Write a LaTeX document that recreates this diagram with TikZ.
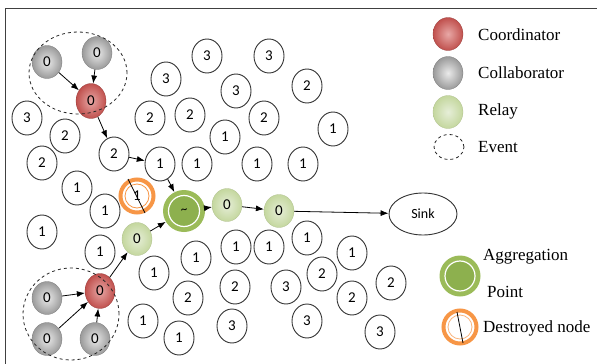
\documentclass[tikz,border=0pt]{standalone}
\usepackage{fontspec}
\setmainfont{Liberation Serif}
\newfontfamily\legfont{Liberation Serif}
\newfontfamily\nodefont{Carlito}
\usetikzlibrary{shapes.geometric,arrows.meta}
\definecolor{redc}{HTML}{C0504D}
\definecolor{redl}{HTML}{E8A8A6}
\definecolor{grayc}{HTML}{9A9A9A}
\definecolor{grayl}{HTML}{EAEAEA}
\definecolor{relayc}{HTML}{C4D79E}
\definecolor{relayl}{HTML}{E6EED8}
\definecolor{aggo}{HTML}{9BBB59}
\definecolor{aggi}{HTML}{8DB04E}
\definecolor{orangec}{HTML}{F79646}
\tikzset{
  wnode/.style={ellipse, draw=black!80, line width=0.9pt, fill=white, minimum width=30pt, minimum height=34pt, inner sep=0pt, font=\nodefont\fontsize{15}{15}\selectfont},
  ball/.style={ellipse, minimum width=30pt, minimum height=33pt, inner sep=0pt, font=\nodefont\fontsize{15}{15}\selectfont},
  grayball/.style={ball, inner color=grayl, outer color=grayc, draw=grayc!80!black, line width=0.3pt},
  redball/.style={ball, inner color=redl, outer color=redc, draw=redc!80!black, line width=0.3pt},
  relayball/.style={ball, inner color=relayl, outer color=relayc, draw=relayc!90!black, line width=0.3pt},
  event/.style={ellipse, draw=black!85, dashed, line width=0.8pt, inner sep=0pt},
  arr/.style={-{Latex[length=8pt,width=6pt]}, line width=0.8pt, black},
  legtext/.style={anchor=west, inner sep=0pt, font=\legfont\fontsize{17}{17}\selectfont},
  aggouter/.style={circle, fill=aggo, minimum size=42pt, inner sep=0pt},
  destroyed/.style={circle, draw=orangec, line width=4pt, fill=white, minimum size=33pt, inner sep=0pt},
}
\begin{document}
\begin{tikzpicture}[x=1pt,y=-1pt]
\useasboundingbox (0,0) rectangle (597,364);
\fill[white] (0,0) rectangle (597,364);
\draw[black!75, line width=0.9pt] (5,364) -- (5,8) -- (597,8);

% white nodes
\node[wnode] (n1) at (207,56) {3};
\node[wnode] (n2) at (269,56) {3};
\node[wnode] (n3) at (166,79) {3};
\node[wnode] (n4) at (236,91) {3};
\node[wnode] (n5) at (307,86) {2};
\node[wnode] (n6) at (27,118) {3};
\node[wnode] (n7) at (65,136) {2};
\node[wnode] (n8) at (150,118) {2};
\node[wnode] (n9) at (190,115) {2};
\node[wnode] (n10) at (264,118) {2};
\node[wnode] (n11) at (333,129) {1};
\node[wnode] (n12) at (225,137) {1};
\node[wnode] (n13) at (42,163) {2};
\node[wnode] (n14) at (114,154) {2};
\node[wnode] (n15) at (160,164) {1};
\node[wnode] (n16) at (197,164) {1};
\node[wnode] (n17) at (257,164) {1};
\node[wnode] (n18) at (303,164) {1};
\node[wnode] (n19) at (77,188) {1};
\node[wnode] (n20) at (105,211) {1};
\node[wnode] (n21) at (42,232) {1};
\node[wnode] (n22) at (100,252) {1};
\node[wnode] (n23) at (154,273) {1};
\node[wnode] (n24) at (196,258) {1};
\node[wnode] (n25) at (236,247) {1};
\node[wnode] (n26) at (269,247) {1};
\node[wnode] (n27) at (307,238) {1};
\node[wnode] (n28) at (352,253) {1};
\node[wnode] (n29) at (322,274) {2};
\node[wnode] (n30) at (352,298) {2};
\node[wnode] (n31) at (391,283) {2};
\node[wnode] (n32) at (188,298) {2};
\node[wnode] (n33) at (235,287) {2};
\node[wnode] (n34) at (286,287) {3};
\node[wnode] (n35) at (232,326) {3};
\node[wnode] (n36) at (143,321) {1};
\node[wnode] (n37) at (179,338) {1};
\node[wnode] (n38) at (307,321) {3};
\node[wnode] (n39) at (380,332) {3};

% sink
\node[ellipse, draw=black!80, line width=0.9pt, minimum width=68pt, minimum height=42pt, inner sep=0pt, font=\nodefont\fontsize{14}{14}\selectfont] (sink) at (423,214) {Sink};

% top event group
\node[grayball] (g1) at (47,62) {0};
\node[grayball] (g2) at (97,53) {0};
\node[redball, minimum height=35pt] (c1) at (91,101) {0};
\node[event, minimum width=98pt, minimum height=82pt] (ev1) at (78,73) {};

% bottom event group
\node[grayball] (g3) at (47,298) {0};
\node[grayball] (g4) at (47,339) {0};
\node[grayball] (g5) at (95,339) {0};
\node[redball, minimum height=35pt] (c2) at (100,291) {0};
\node[event, minimum width=96pt, minimum height=92pt] (ev2) at (71,314) {};

% relays
\node[relayball] (r1) at (137,239) {0};
\node[relayball] (r2) at (227,205) {0};
\node[relayball] (r3) at (279,211) {0};

% aggregation point
\node[aggouter] (agg) at (184,211) {};
\node[circle, draw=white, line width=1.2pt, fill=aggi, minimum size=31pt, inner sep=0pt, font=\nodefont\fontsize{13}{13}\selectfont] (aggin) at (184,211) {\raisebox{-4pt}{\textasciitilde}};

% destroyed node
\node[destroyed] (d1) at (137,196) {};
\node[circle, draw=orangec, line width=0.8pt, minimum size=24pt, inner sep=0pt, font=\nodefont\fontsize{15}{15}\selectfont] (d1in) at (137,196) {\raisebox{-2pt}{1}};
\coordinate (d1a) at (128,179);
\coordinate (d1b) at (145,213);
\draw[black, line width=0.8pt] (d1a) -- (d1b);

% arrows
\draw[arr] (g1) -- (c1);
\draw[arr] (g2) -- (c1);
\draw[arr] (c1) -- (n14);
\draw[arr] (n14) -- (n15);
\draw[arr] (n15) -- (agg);
\draw[arr] (agg) -- (r2);
\draw[arr] (r2) -- (r3);
\draw[arr] (r3) -- (sink);
\draw[arr] (g3) -- (c2);
\draw[arr] (g4) -- (c2);
\draw[arr] (g5) -- (c2);
\draw[arr] (c2) -- (r1);
\draw[arr] (r1) -- (agg);

% legend
\node[redball] (lc) at (448,34) {};
\node[legtext] (lct) at (478,35) {Coordinator};
\node[grayball] (lg) at (448,73) {};
\node[legtext] (lgt) at (478,73) {Collaborator};
\node[relayball] (lr) at (448,112) {};
\node[legtext] (lrt) at (478,111) {Relay};
\node[event, minimum width=30pt, minimum height=25pt] (le) at (449,147) {};
\node[legtext] (let) at (478,147) {Event};
\node[aggouter, minimum size=41pt] (la) at (460,276) {};
\node[circle, draw=white, line width=1.2pt, fill=aggi, minimum size=30pt, inner sep=0pt] (lain) at (460,276) {};
\node[legtext] (lat) at (483,257) {Aggregation};
\node[legtext] (lpt) at (487,292) {Point};
\node[destroyed, minimum size=33pt] (ld) at (460,327) {};
\node[circle, draw=orangec!70, line width=0.8pt, minimum size=24pt, inner sep=0pt] (ldin) at (460,327) {};
\coordinate (lda) at (457,312);
\coordinate (ldb) at (463,343);
\draw[black, line width=0.8pt] (lda) -- (ldb);
\node[legtext] (ldt) at (483,328) {Destroyed node};
\end{tikzpicture}
\end{document}
